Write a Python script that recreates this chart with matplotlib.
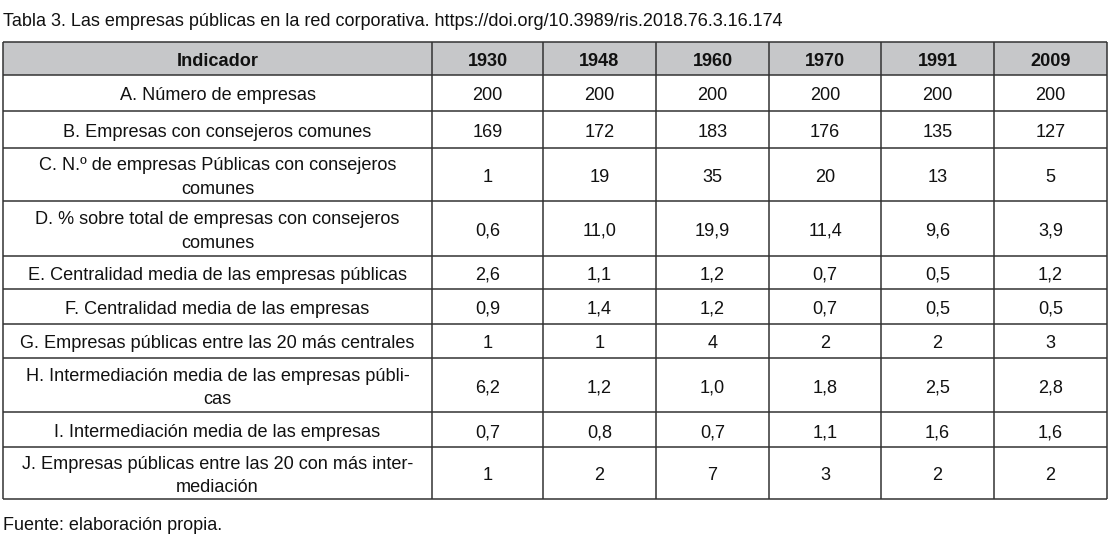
import matplotlib.pyplot as plt
from matplotlib.patches import Rectangle

plt.rcParams['font.family'] = ['Liberation Sans', 'DejaVu Sans']

title = "Tabla 3. Las empresas públicas en la red corporativa. https://doi.org/10.3989/ris.2018.76.3.16.174"
source = "Fuente: elaboración propia."
header = "Indicador"
years = ["1930", "1948", "1960", "1970", "1991", "2009"]
indicators = [
    "A. Número de empresas",
    "B. Empresas con consejeros comunes",
    "C. N.º de empresas Públicas con consejeros\ncomunes",
    "D. % sobre total de empresas con consejeros\ncomunes",
    "E. Centralidad media de las empresas públicas",
    "F. Centralidad media de las empresas",
    "G. Empresas públicas entre las 20 más centrales",
    "H. Intermediación media de las empresas públi-\ncas",
    "I. Intermediación media de las empresas",
    "J. Empresas públicas entre las 20 con más inter-\nmediación",
]
values = [
    ["200", "200", "200", "200", "200", "200"],
    ["169", "172", "183", "176", "135", "127"],
    ["1", "19", "35", "20", "13", "5"],
    ["0,6", "11,0", "19,9", "11,4", "9,6", "3,9"],
    ["2,6", "1,1", "1,2", "0,7", "0,5", "1,2"],
    ["0,9", "1,4", "1,2", "0,7", "0,5", "0,5"],
    ["1", "1", "4", "2", "2", "3"],
    ["6,2", "1,2", "1,0", "1,8", "2,5", "2,8"],
    ["0,7", "0,8", "0,7", "1,1", "1,6", "1,6"],
    ["1", "2", "7", "3", "2", "2"],
]

# layout in pixels
col_edges = [3, 432, 543, 656, 769, 881, 994, 1107]
row_edges = [42, 75, 111, 148, 201, 256, 289, 324, 358, 412, 447, 499]
line_col = "#333333"
head_bg = "#c6c7c9"
txt_col = "#111111"
fs = 13.1
dy = 3  # nudge text down a bit

fig = plt.figure(figsize=(11.12, 5.41), dpi=100)
ax = fig.add_axes([0, 0, 1, 1])
ax.set_xlim(0, 1112)
ax.set_ylim(541, 0)
ax.axis("off")

ax.add_patch(Rectangle((col_edges[0], row_edges[0]), col_edges[-1] - col_edges[0],
                       row_edges[1] - row_edges[0], facecolor=head_bg, edgecolor="none"))

for y in row_edges:
    ax.plot([col_edges[0], col_edges[-1]], [y, y], color=line_col, lw=1.1, solid_capstyle="butt")
for x in col_edges:
    ax.plot([x, x], [row_edges[0], row_edges[-1]], color=line_col, lw=1.1, solid_capstyle="butt")

def cx(i):
    return (col_edges[i] + col_edges[i + 1]) / 2

def cy(j):
    return (row_edges[j] + row_edges[j + 1]) / 2 + dy

ax.text(cx(0), cy(0), header, ha="center", va="center", fontsize=fs, fontweight="bold", color=txt_col)
for i, yr in enumerate(years):
    ax.text(cx(i + 1), cy(0), yr, ha="center", va="center", fontsize=fs, fontweight="bold", color=txt_col)

for j, (lab, row) in enumerate(zip(indicators, values)):
    ax.text(cx(0), cy(j + 1), lab, ha="center", va="center", fontsize=fs,
            color=txt_col, multialignment="center", linespacing=1.5)
    for i, v in enumerate(row):
        ax.text(cx(i + 1), cy(j + 1), v, ha="center", va="center", fontsize=fs, color=txt_col)

ax.text(3, 22, title, ha="left", va="center", fontsize=13.0, color=txt_col)
ax.text(3, 526, source, ha="left", va="center", fontsize=13.0, color=txt_col)

fig.savefig("out.png", dpi=100)
